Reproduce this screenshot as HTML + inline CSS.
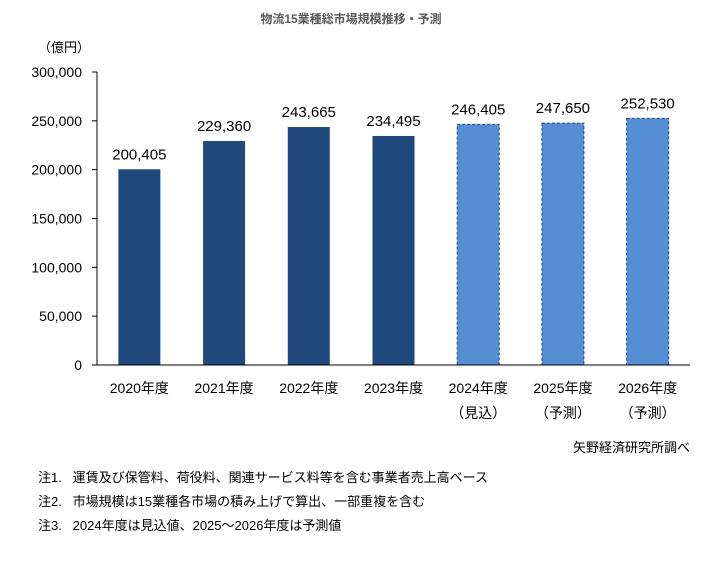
<!DOCTYPE html>
<html><head><meta charset="utf-8">
<style>
body{margin:0;background:#fff;font-family:"Liberation Sans","Noto Sans CJK JP",sans-serif;}
svg text{font-family:"Liberation Sans","Noto Sans CJK JP",sans-serif;white-space:pre;}
</style></head>
<body>
<svg id="chart" width="702" height="561">
<text x="351" y="23" text-anchor="middle" font-size="12" font-weight="bold" fill="#595959">物流15業種総市場規模推移・予測</text>
<text x="38" y="52" font-size="13" fill="#000">（億円）</text>
<g id="yaxis"></g><g id="bars"></g><g id="xaxis"></g>
<text x="690" y="452" text-anchor="end" font-size="13" fill="#000">矢野経済研究所調べ</text>
<text x="38" y="482" font-size="13" fill="#000">注1.   運賃及び保管料、荷役料、関連サービス料等を含む事業者売上高ベース</text>
<text x="38" y="506" font-size="13" fill="#000">注2.   市場規模は15業種各市場の積み上げで算出、一部重複を含む</text>
<text x="38" y="530" font-size="13" fill="#000">注3.   2024年度は見込値、2025～2026年度は予測値</text>
</svg>
<script>
const categories=["2020年度","2021年度","2022年度","2023年度","2024年度","2025年度","2026年度"];
const subLabels=["","","","","（見込）","（予測）","（予測）"];
const values=[200405,229360,243665,234495,246405,247650,252530];
const forecast=[false,false,false,false,true,true,true];
const yTicks=[0,50000,100000,150000,200000,250000,300000];
const NS="http://www.w3.org/2000/svg";
const L=97,R=690,T=72,B=365,yMax=300000;
const y=v=>B-(v/yMax)*(B-T);
const slot=(R-L)/categories.length;
const xc=i=>L+slot*(i+0.5);
const bw=42;
function mk(tag,attrs,parent,text){const e=document.createElementNS(NS,tag);for(const k in attrs)e.setAttribute(k,attrs[k]);if(text!==undefined)e.textContent=text;parent.appendChild(e);return e;}
const ya=document.getElementById('yaxis'),bg=document.getElementById('bars'),xa=document.getElementById('xaxis');
yTicks.forEach(t=>{
  const tx=mk('text',{x:82,y:y(t)+5,'text-anchor':'end','font-size':14,fill:'#000'},ya,t.toLocaleString('en-US'));
  
  
  const tk=mk('line',{x1:L-5,x2:L,y1:y(t),y2:y(t),stroke:'#000','stroke-width':1},ya);
  
  
});
const yl=mk('line',{x1:L,x2:L,y1:T,y2:B,stroke:'#000','stroke-width':1},ya);


values.forEach((v,i)=>{
  const r=mk('rect',{x:xc(i)-bw/2,y:y(v),width:bw,height:B-y(v),fill:forecast[i]?'#558ed5':'#1f497d'},bg);
  if(forecast[i]){r.setAttribute('stroke','#1f497d');r.setAttribute('stroke-dasharray','3,2');r.setAttribute('stroke-width','1');}
  
  
  const lb=mk('text',{x:xc(i),y:y(v)-10,'text-anchor':'middle','font-size':15,fill:'#000'},bg,v.toLocaleString('en-US'));
  
  
  const cl=mk('text',{x:xc(i),y:393,'text-anchor':'middle','font-size':14,fill:'#000'},xa,categories[i]);
  
  
  if(subLabels[i]){
    const sl=mk('text',{x:xc(i),y:418,'text-anchor':'middle','font-size':14,fill:'#000'},xa,subLabels[i]);
    
    
  }
});
const xl=mk('line',{x1:L,x2:R,y1:B,y2:B,stroke:'#000','stroke-width':1},xa);


</script>
</body></html>
